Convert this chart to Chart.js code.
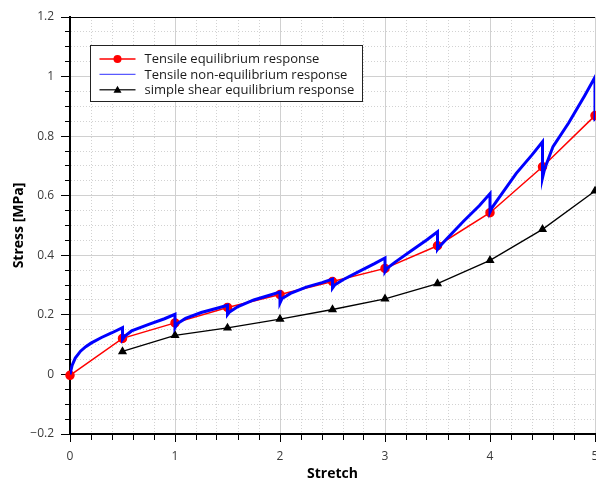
<!DOCTYPE html>
<html>
<head>
<meta charset="utf-8">
<script src="https://cdn.jsdelivr.net/npm/chart.js@4/dist/chart.umd.min.js"></script>
<style>
  html, body { margin: 0; padding: 0; background: #fff; overflow: hidden; }
  #wrap { width: 596px; height: 480px; }
  canvas { display: block; }
</style>
</head>
<body>
<div id="wrap"><canvas id="c" width="596" height="480"></canvas></div>
<script>
// ---- data ----
const seriesNames = [
  'Tensile equilibrium response',
  'Tensile non-equilibrium response',
  'simple shear equilibrium response'
];

const eqStretch = [0, 0.5, 1, 1.5, 2, 2.5, 3, 3.5, 4, 4.5, 5];
const eqStress  = [-0.003, 0.121, 0.173, 0.225, 0.268, 0.312, 0.356, 0.432, 0.543, 0.697, 0.869];

const nonEqStretch = [
  0, 0.02, 0.05, 0.1, 0.15, 0.2, 0.3, 0.4, 0.5, 0.5,
  0.52, 0.587, 0.75, 0.9, 1.0, 1.0,
  1.02, 1.1, 1.25, 1.4, 1.5, 1.5,
  1.52, 1.6, 1.75, 1.9, 2.0, 2.0,
  2.02, 2.1, 2.25, 2.4, 2.5, 2.5,
  2.52, 2.6, 2.75, 2.9, 3.0, 3.0,
  3.02, 3.1, 3.25, 3.4, 3.5, 3.5,
  3.52, 3.6, 3.75, 3.9, 4.0, 4.0,
  4.02, 4.1, 4.25, 4.4, 4.5, 4.5,
  4.52, 4.6, 4.75, 4.9, 5.0, 5.0
];
const nonEqStress = [
  0.0, 0.03, 0.055, 0.078, 0.093, 0.105, 0.124, 0.14, 0.157, 0.118,
  0.128, 0.146, 0.168, 0.187, 0.202, 0.157,
  0.17, 0.188, 0.208, 0.222, 0.232, 0.201,
  0.21, 0.228, 0.25, 0.266, 0.277, 0.24,
  0.255, 0.272, 0.293, 0.308, 0.32, 0.29,
  0.3, 0.318, 0.345, 0.372, 0.391, 0.345,
  0.356, 0.378, 0.415, 0.452, 0.479, 0.42,
  0.43, 0.46, 0.515, 0.567, 0.607, 0.545,
  0.56, 0.6, 0.675, 0.737, 0.781, 0.66,
  0.69, 0.765, 0.845, 0.935, 0.998, 0.85
];

const shearStretch = [0.5, 1, 1.5, 2, 2.5, 3, 3.5, 4, 4.5, 5];
const shearStress  = [0.077, 0.131, 0.156, 0.186, 0.218, 0.254, 0.305, 0.383, 0.487, 0.616];

const xTitle = 'Stretch';
const yTitle = 'Stress [MPa]';
const xMin = 0, xMax = 5, xMinorStep = 0.2, xMajorStep = 1;
const yMin = -0.2, yMax = 1.2, yMinorStep = 0.05, yMajorStep = 0.2;

// ---- helpers ----
const zip = (xs, ys) => xs.map((x, i) => ({ x: x, y: ys[i] }));
const isMajor = (v, step) => Math.abs(v / step - Math.round(v / step)) < 1e-6;
const fmt = (v) => {
  let r = Math.round(v * 10) / 10;
  if (Math.abs(r) < 1e-9) r = 0;
  return String(r).replace('-', '\u2212');
};
const FONT = "'Open Sans', 'DejaVu Sans', sans-serif";

function axisCfg(isX) {
  const major = isX ? xMajorStep : yMajorStep;
  const tl = isX ? 8 : 9;
  return {
    type: 'linear',
    min: isX ? xMin : yMin,
    max: isX ? xMax : yMax,
    position: isX ? 'bottom' : 'left',
    ticks: {
      stepSize: isX ? xMinorStep : yMinorStep,
      autoSkip: false,
      maxRotation: 0,
      minRotation: 0,
      padding: 7,
      color: '#3a3a3a',
      font: { family: FONT, size: 12 },
      callback: (v) => isMajor(v, major) ? fmt(v) : ''
    },
    grid: {
      color: (c) => (c.tick && isMajor(c.tick.value, major)) ? '#d0d0d0' : '#d2d2d2',
      lineWidth: 1,
      tickColor: '#000',
      tickLength: tl,
      tickWidth: 1,
      tickBorderDash: (c) => (c.tick && isMajor(c.tick.value, major)) ? [] : (isX ? [5, 100] : [0, tl - 5, 5, 100])
    },
    border: {
      color: '#000',
      width: 2,
      dash: (c) => (c.tick && !isMajor(c.tick.value, major)) ? [1, 2] : []
    },
    title: {
      display: true,
      text: isX ? xTitle : yTitle,
      color: '#000',
      font: { family: FONT, size: 14, weight: 'bold' },
      padding: isX ? { top: 0, bottom: -2 } : { top: 11, bottom: 0 }
    },
    afterFit: (scale) => {
      if (isX) {
        scale.height = 46;
        scale.paddingLeft = 0;
        scale.paddingRight = 0;
      } else {
        scale.width = 70;
        scale.paddingTop = 0;
        scale.paddingBottom = 0;
      }
    }
  };
}

const boxLegend = {
  id: 'boxLegend',
  afterDraw(chart) {
    const ctx = chart.ctx;
    const a = chart.chartArea;
    ctx.save();
    // top frame line
    ctx.strokeStyle = '#000';
    ctx.lineWidth = 1;
    ctx.beginPath();
    ctx.moveTo(a.left, Math.round(a.top) + 0.5);
    ctx.lineTo(a.right, Math.round(a.top) + 0.5);
    ctx.stroke();

    // legend box
    const bx = Math.round(a.left) + 20.5, by = Math.round(a.top) + 28.5;
    const bw = 272, bh = 56;
    ctx.fillStyle = '#fff';
    ctx.fillRect(bx, by, bw, bh);
    ctx.strokeStyle = '#222';
    ctx.lineWidth = 1;
    ctx.strokeRect(bx, by, bw, bh);

    const rowH = 15.4;
    ctx.font = '13px ' + FONT;
    ctx.textBaseline = 'middle';
    ctx.textAlign = 'left';
    chart.data.datasets.forEach((ds, i) => {
      const cy = by + 13.5 + i * rowH;
      const lx0 = bx + 9, lx1 = bx + 45, mx = (lx0 + lx1) / 2;
      ctx.strokeStyle = ds.legendColor || ds.borderColor;
      ctx.lineWidth = ds.legendWidth || 1.5;
      ctx.beginPath();
      ctx.moveTo(lx0, cy);
      ctx.lineTo(lx1, cy);
      ctx.stroke();
      if (ds.legendMarker === 'circle') {
        ctx.fillStyle = ds.pointBackgroundColor;
        ctx.beginPath();
        ctx.arc(mx, cy, 4, 0, Math.PI * 2);
        ctx.fill();
      } else if (ds.legendMarker === 'triangle') {
        ctx.fillStyle = ds.pointBackgroundColor;
        ctx.beginPath();
        ctx.moveTo(mx, cy - 4);
        ctx.lineTo(mx + 4, cy + 3);
        ctx.lineTo(mx - 4, cy + 3);
        ctx.closePath();
        ctx.fill();
      }
      ctx.fillStyle = '#1a1a1a';
      ctx.fillText(ds.label, bx + 54, cy + 0.5);
    });
    ctx.restore();
  }
};

new Chart(document.getElementById('c'), {
  type: 'line',
  data: {
    datasets: [
      {
        label: seriesNames[0],
        data: zip(eqStretch, eqStress),
        borderColor: '#ff0000',
        backgroundColor: '#ff0000',
        pointBackgroundColor: '#ff0000',
        pointBorderColor: '#ff0000',
        borderWidth: 1.5,
        pointRadius: 4,
        pointStyle: 'circle',
        legendMarker: 'circle',
        tension: 0,
        order: 1,
        clip: false
      },
      {
        label: seriesNames[1],
        data: zip(nonEqStretch, nonEqStress),
        borderColor: '#0000ff',
        backgroundColor: '#0000ff',
        legendColor: '#5a5aff',
        legendWidth: 1.2,
        borderWidth: 3,
        pointRadius: 0,
        legendMarker: 'none',
        tension: 0,
        order: 0
      },
      {
        label: seriesNames[2],
        data: zip(shearStretch, shearStress),
        borderColor: '#000000',
        backgroundColor: '#000000',
        pointBackgroundColor: '#000000',
        pointBorderColor: '#000000',
        borderWidth: 1.3,
        pointRadius: 4,
        pointStyle: 'triangle',
        legendMarker: 'triangle',
        legendColor: '#333',
        tension: 0,
        order: 2,
        clip: false
      }
    ]
  },
  options: {
    responsive: false,
    animation: false,
    devicePixelRatio: 1,
    layout: { autoPadding: false, padding: { left: 0, right: 1, top: 17, bottom: 0 } },
    plugins: {
      legend: { display: false },
      tooltip: { enabled: false }
    },
    scales: {
      x: axisCfg(true),
      y: axisCfg(false)
    }
  },
  plugins: [boxLegend]
});
</script>
</body>
</html>
